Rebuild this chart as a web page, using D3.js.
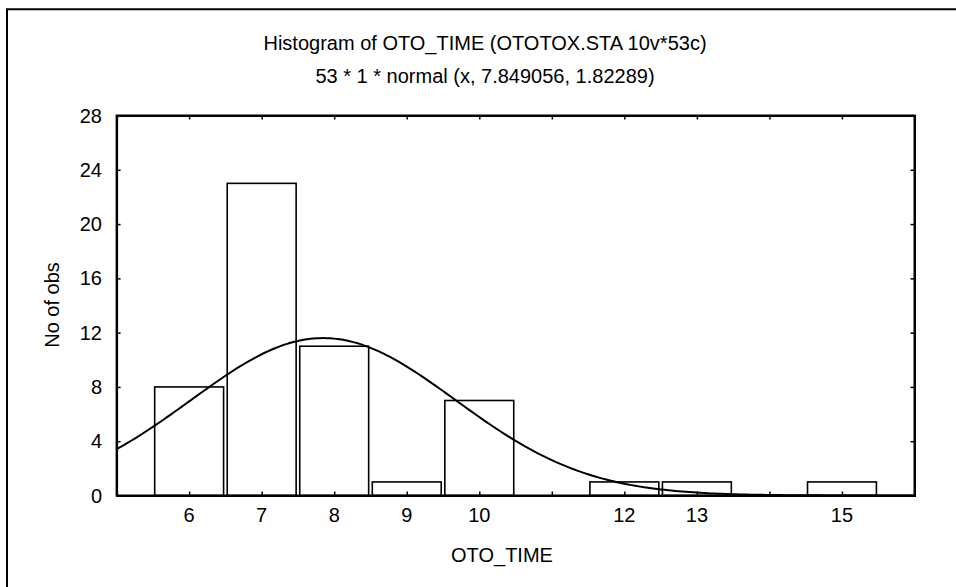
<!DOCTYPE html>
<html>
<head>
<meta charset="utf-8">
<script src="https://cdn.jsdelivr.net/npm/d3@7"></script>
<style>
  html, body { margin: 0; padding: 0; background: #fff; }
  svg { display: block; }
  text { font-family: "Liberation Sans", Arial, sans-serif; fill: #000; }
</style>
</head>
<body>
<svg id="chart" width="956" height="587"></svg>
<script>
// ---- Data ----
const binCenters = [6, 7, 8, 9, 10, 12, 13, 15];
const binCounts  = [8, 23, 11, 1, 7, 1, 1, 1];
const xTickValues = [5, 6, 7, 8, 9, 10, 11, 12, 13, 14, 15, 16];
const xTickLabels = ["6", "7", "8", "9", "10", "12", "13", "15"];
const yTickValues = [0, 4, 8, 12, 16, 20, 24, 28];
// fitted normal: N * binWidth * normal(x, mean, sd)
const fitN = 53, fitBinWidth = 1, fitMean = 7.849056, fitSd = 1.82289;
const titleText = "Histogram of OTO_TIME (OTOTOX.STA 10v*53c)";
const subtitleText = "53 * 1 * normal (x, 7.849056, 1.82289)";
const xLabel = "OTO_TIME";
const yLabel = "No of obs";

// ---- Layout ----
const svg = d3.select("#chart");
const L = 116.6, R = 914.5, T = 115.5, B = 495.5;
const x = d3.scaleLinear().domain([5, 16]).range([L, R]);
const y = d3.scaleLinear().domain([0, 28]).range([B, T]);
const fs = 20;

// outer frame (left + top visible)
svg.append("path").attr("d", `M7,${587} V9.3 H956`)
  .attr("fill", "none").attr("stroke", "#000").attr("stroke-width", 2);

// titles
svg.append("text").attr("x", 485).attr("y", 50).attr("text-anchor", "middle")
  .attr("font-size", fs).text(titleText);
svg.append("text").attr("x", 485).attr("y", 83).attr("text-anchor", "middle")
  .attr("font-size", fs).text(subtitleText);

// bars
const barW = 0.95;
svg.append("g").selectAll("rect").data(binCenters).join("rect")
  .attr("x", (d) => x(d - barW / 2))
  .attr("width", (d) => x(d + barW / 2) - x(d - barW / 2))
  .attr("y", (d, i) => y(binCounts[i]))
  .attr("height", (d, i) => y(0) - y(binCounts[i]))
  .attr("fill", "#fff").attr("stroke", "#000").attr("stroke-width", 1.6);

// normal curve
const curveX = d3.range(5, 16.0001, 0.05);
const pdf = (v) => fitN * fitBinWidth * Math.exp(-0.5 * ((v - fitMean) / fitSd) ** 2) / (fitSd * Math.sqrt(2 * Math.PI));
svg.append("path").datum(curveX)
  .attr("d", d3.line().x((d) => x(d)).y((d) => y(pdf(d))).curve(d3.curveMonotoneX))
  .attr("fill", "none").attr("stroke", "#000").attr("stroke-width", 2);

// axes (ticks inward on all four sides)
const tl = 4;
const gB = svg.append("g").attr("transform", `translate(0,${B})`)
  .call(d3.axisTop(x).tickValues(xTickValues).tickSize(tl).tickFormat(""));
const gT = svg.append("g").attr("transform", `translate(0,${T})`)
  .call(d3.axisBottom(x).tickValues(xTickValues).tickSize(tl).tickFormat(""));
const gL = svg.append("g").attr("transform", `translate(${L},0)`)
  .call(d3.axisRight(y).tickValues(yTickValues).tickSize(tl).tickFormat(""));
const gR = svg.append("g").attr("transform", `translate(${R},0)`)
  .call(d3.axisLeft(y).tickValues(yTickValues).tickSize(tl).tickFormat(""));
[gB, gT, gL, gR].forEach((g) => {
  g.selectAll(".domain").attr("stroke", "#000").attr("stroke-width", 2);
  g.selectAll(".tick line").attr("stroke", "#000").attr("stroke-width", 1.5);
});
svg.append("rect").attr("x", L).attr("y", T).attr("width", R - L).attr("height", B - T)
  .attr("fill", "none").attr("stroke", "#000").attr("stroke-width", 2);

// tick labels
svg.append("g").selectAll("text").data(xTickLabels).join("text")
  .attr("x", (d) => x(+d)).attr("y", 522).attr("text-anchor", "middle")
  .attr("font-size", fs).text((d) => d);
svg.append("g").selectAll("text").data(yTickValues).join("text")
  .attr("x", 102).attr("y", (d) => y(d)).attr("dy", "0.35em").attr("text-anchor", "end")
  .attr("font-size", fs).text((d) => d);

// axis titles
svg.append("text").attr("x", 502).attr("y", 562).attr("text-anchor", "middle")
  .attr("font-size", fs).text(xLabel);
svg.append("text").attr("transform", `translate(59,${305}) rotate(-90)`)
  .attr("text-anchor", "middle").attr("font-size", fs).text(yLabel);
</script>
</body>
</html>
